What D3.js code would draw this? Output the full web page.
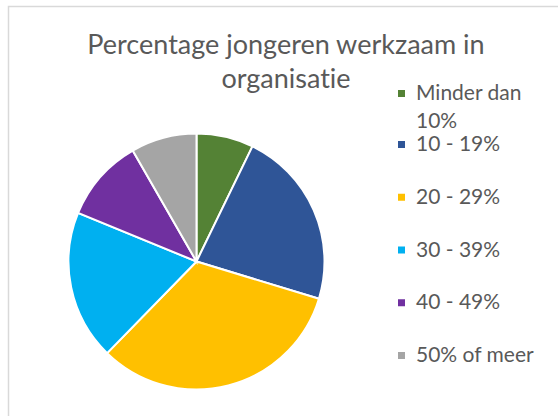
<!DOCTYPE html>
<html>
<head>
<meta charset="utf-8">
<script src="https://cdn.jsdelivr.net/npm/d3@7"></script>
<style>
  body { margin: 0; background: #fff; }
  svg text { font-family: Lato, "Liberation Sans", sans-serif; fill: #595959; font-variant-ligatures: none; }
</style>
</head>
<body>
<div id="chart"></div>
<script>
// data (share in %)
var categories = ["Minder dan 10%", "10 - 19%", "20 - 29%", "30 - 39%", "40 - 49%", "50% of meer"];
var values = [7.2, 22.5, 32.6, 18.9, 10.5, 8.3];
var colors = ["#548235", "#2f5597", "#ffc000", "#00b0f0", "#7030a0", "#a5a5a5"];
var legendLines = [["Minder dan", "10%"], ["10 - 19%"], ["20 - 29%"], ["30 - 39%"], ["40 - 49%"], ["50% of meer"]];
var titleLines = ["Percentage jongeren werkzaam in", "organisatie"];

var width = 558, height = 416;
var svg = d3.select("#chart").append("svg")
    .attr("width", width)
    .attr("height", height);

// chart frame
svg.append("rect")
    .attr("x", 8.5).attr("y", 6.5)
    .attr("width", 560).attr("height", 420)
    .attr("fill", "none")
    .attr("stroke", "#d9d9d9")
    .attr("stroke-width", 1.5);

// title
svg.append("g").selectAll("text").data(titleLines).enter().append("text")
    .attr("x", 286)
    .attr("y", function(d, i) { return 54 + i * 34; })
    .attr("text-anchor", "middle")
    .attr("font-size", 27)
    .text(function(d) { return d; });

// pie
var pie = d3.pie().sort(null).value(function(d) { return d; });
var arc = d3.arc().innerRadius(0).outerRadius(128);

var pieG = svg.append("g").attr("transform", "translate(196.5,261.5)");
pieG.selectAll("path").data(pie(values)).enter().append("path")
    .attr("d", arc)
    .attr("fill", function(d, i) { return colors[i]; })
    .attr("stroke", "#fff")
    .attr("stroke-width", 2);

// legend
var rowY = d3.scalePoint().domain(d3.range(1, categories.length)).range([151, 362]);
function baseline(i) { return i === 0 ? 100 : rowY(i); }

var legend = svg.append("g");
var items = legend.selectAll("g").data(categories).enter().append("g");

items.append("rect")
    .attr("x", 398)
    .attr("y", function(d, i) { return baseline(i) - 10; })
    .attr("width", 7).attr("height", 7)
    .attr("fill", function(d, i) { return colors[i]; });

items.append("text")
    .attr("x", 416)
    .attr("y", function(d, i) { return baseline(i); })
    .attr("font-size", 21)
    .selectAll("tspan").data(function(d, i) { return legendLines[i]; }).enter().append("tspan")
    .attr("x", 416)
    .attr("dy", function(d, j) { return j === 0 ? 0 : 28; })
    .text(function(d) { return d; });
</script>
</body>
</html>
